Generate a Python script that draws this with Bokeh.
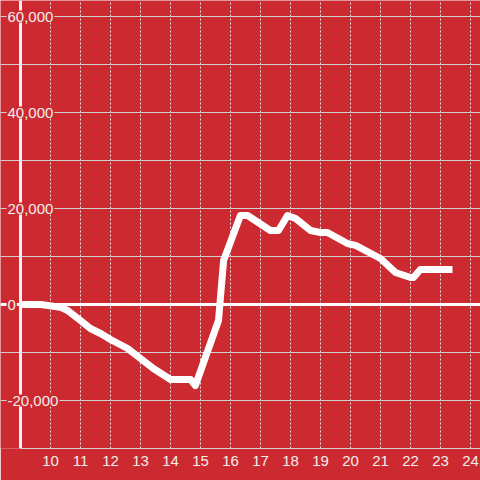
from bokeh.plotting import figure
from bokeh.models import Range1d, FixedTicker, Grid, Label
from bokeh.embed import file_html
from bokeh.resources import INLINE

# data
hours = [9.0, 9.67, 10.33, 10.57, 11.0, 11.33, 11.67, 12.0, 12.57, 13.0, 13.43, 14.0,
         14.67, 14.83, 15.6, 15.77, 16.33, 16.57, 17.33, 17.6, 17.9, 18.17, 18.67, 19.0,
         19.23, 19.9, 20.17, 21.0, 21.5, 22.0, 22.1, 22.33, 23.4]
values = [0, 0, -560, -1250, -3330, -5000, -6040, -7290, -9170, -11250, -13330, -15625,
          -15625, -16875, -3333, 9170, 18540, 18540, 15420, 15420, 18540, 17900, 15420, 15000,
          15000, 12700, 12300, 9580, 6670, 5625, 5625, 7290, 7290]
x_ticks = list(range(10, 25))
y_label_ticks = [-20000, 0, 20000, 40000, 60000]
y_grid_ticks = [-20000, -10000, 10000, 20000, 30000, 40000, 50000, 60000]
y_labels = ["-20,000", "0", "20,000", "40,000", "60,000"]
x_start = 9.0
y_min, y_max = -30000, 60000

BG = "#cc2a30"
TXT = "#f0eeee"
FONT = "Liberation Sans"

W, H = 480, 480
frame_top_pad = 16      # px above y_max
frame_left_pad = 20     # px left of x_start
frame_h = H - 32
px_per_hour = 30.0
px_per_unit = frame_h - frame_top_pad
y_top = y_max + frame_top_pad * (y_max - y_min) / (frame_h - frame_top_pad)
x_lo = x_start - frame_left_pad / px_per_hour
x_hi = x_lo + W / px_per_hour

p = figure(width=W, height=H, output_backend="svg", toolbar_location=None,
           x_range=Range1d(x_lo, x_hi), y_range=Range1d(y_min, y_top),
           y_axis_location=None, min_border_left=0, min_border_right=0,
           min_border_top=0, min_border_bottom=H - frame_h)
p.background_fill_color = BG
p.border_fill_color = BG
p.outline_line_color = None

# x axis
xa = p.xaxis[0]
xa.ticker = FixedTicker(ticks=x_ticks)
xa.bounds = (x_start, x_hi)
xa.axis_line_color = "#d0d0d0"
xa.axis_line_width = 1
xa.major_tick_line_color = None
xa.minor_tick_line_color = None
xa.major_tick_out = 0
xa.major_tick_in = 0
xa.major_label_standoff = 7
xa.major_label_text_color = TXT
xa.major_label_text_font = FONT
xa.major_label_text_font_size = "15px"

p.xgrid.ticker = FixedTicker(ticks=x_ticks)
p.xgrid.bounds = (y_min, y_max)
p.xgrid.grid_line_color = "#e6e6e6"
p.xgrid.grid_line_dash = "2 2"
p.xgrid.grid_line_width = 1

p.add_layout(Grid(dimension=1, ticker=FixedTicker(ticks=y_grid_ticks), bounds=(x_start, x_hi),
                  grid_line_color="#cfcfcf", grid_line_width=1))
# zero line
p.add_layout(Grid(dimension=1, ticker=FixedTicker(ticks=[0]), bounds=(x_start, x_hi),
                  grid_line_color="white", grid_line_width=3))
# y axis line
p.add_layout(Grid(dimension=0, ticker=FixedTicker(ticks=[x_start]), bounds=(y_min, y_max),
                  grid_line_color="#f4f4f4", grid_line_width=3))

p.line(hours, values, line_color="white", line_width=7, line_join="round")

for v, t in zip(y_label_ticks, y_labels):
    p.add_layout(Label(x=6, x_units="screen", y=v, y_units="data", text=t,
                       text_align="left", text_baseline="middle", text_color=TXT,
                       text_font=FONT, text_font_size="15px",
                       background_fill_color=BG, padding=1))

open("out.html", "w").write(file_html(p, INLINE))
